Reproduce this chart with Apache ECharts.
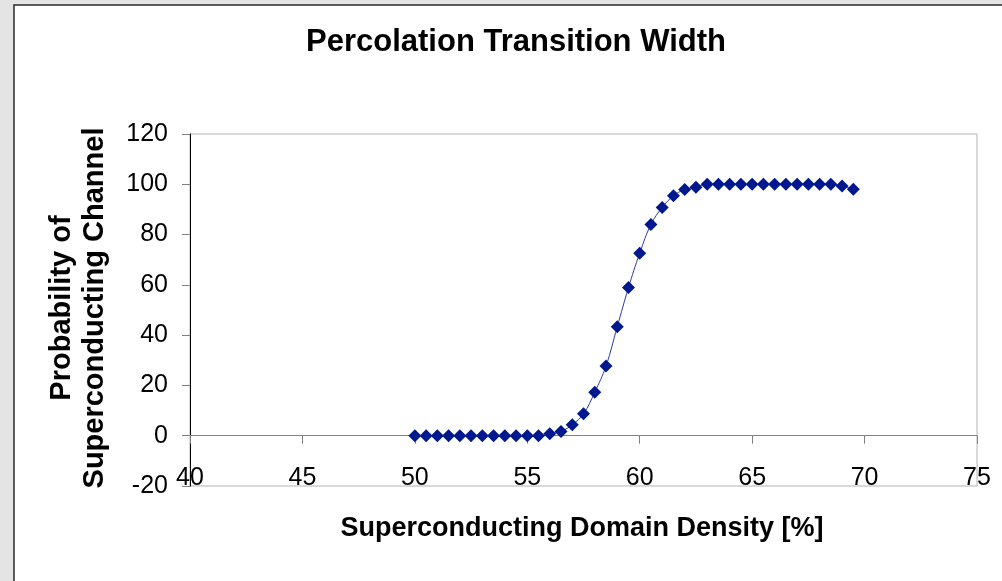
<!DOCTYPE html>
<html><head><meta charset="utf-8">
<script src="https://cdn.jsdelivr.net/npm/echarts@6/dist/echarts.min.js"></script>
<style>html,body{margin:0;padding:0;background:#e4e4e4}#c{width:1002px;height:581px}</style>
</head><body><div id="c"></div>
<script>
// Data
const density = [50,50.5,51,51.5,52,52.5,53,53.5,54,54.5,55,55.5,
  56,56.5,57,57.5,58,58.5,59,59.5,60,60.5,61,61.5,62,62.5,
  63,63.5,64,64.5,65,65.5,66,66.5,67,67.5,68,68.5,69,69.5];
const probability = [0,0,0,0,0,0,0,0,0,0,0,0,
  0.8,1.7,4.4,8.7,17.3,27.7,43.3,58.9,72.6,84.0,90.8,95.4,97.9,98.8,
  100,100,100,100,100,100,100,100,100,100,100,100,99.3,98.0];
const xTicks = [40,45,50,55,60,65,70,75];
const yTicks = [-20,0,20,40,60,80,100,120];
const titleText = 'Percolation Transition Width';
const xTitle = 'Superconducting Domain Density [%]';
const yTitleLines = ['Probability of', 'Superconducting Channel'];

const FONT = '"Liberation Sans", Arial, sans-serif';
const chart = echarts.init(document.getElementById('c'), null, {renderer: 'canvas'});
chart.setOption({
  backgroundColor: '#e4e4e4',
  animation: false,
  title: {
    text: titleText, left: 301, top: 22, padding: 5,
    textStyle: {fontFamily: FONT, fontSize: 31, fontWeight: 'bold', color: '#000'}
  },
  graphic: [
    {type: 'rect', z: -10, shape: {x: 14, y: 5, width: 1100, height: 700},
     style: {fill: '#fff', stroke: '#2a2a2a', lineWidth: 1.5}},
    {type: 'text', x: 582, y: 529, style: {text: xTitle, font: 'bold 27px ' + FONT,
      textAlign: 'center', textVerticalAlign: 'middle', fill: '#000'}},
    {type: 'text', x: 62, y: 308, rotation: Math.PI / 2, style: {text: yTitleLines[0], font: 'bold 29px ' + FONT,
      textAlign: 'center', textVerticalAlign: 'middle', fill: '#000'}},
    {type: 'text', x: 95, y: 308, rotation: Math.PI / 2, style: {text: yTitleLines[1], font: 'bold 29px ' + FONT,
      textAlign: 'center', textVerticalAlign: 'middle', fill: '#000'}}
  ],
  grid: {left: 190, top: 134, right: 25, bottom: 95, show: true,
    backgroundColor: 'transparent', borderColor: '#b4b4b4', borderWidth: 1},
  xAxis: {
    type: 'value', min: xTicks[0], max: xTicks[xTicks.length - 1], interval: xTicks[1] - xTicks[0],
    axisLine: {onZero: true, lineStyle: {color: '#808080', width: 1}},
    axisTick: {show: true, length: 8, lineStyle: {color: '#808080'}},
    axisLabel: {margin: -20, fontFamily: FONT, fontSize: 25, color: '#000', showMinLabel: true, showMaxLabel: true},
    splitLine: {show: false}
  },
  yAxis: {
    type: 'value', min: yTicks[0], max: yTicks[yTicks.length - 1], interval: yTicks[1] - yTicks[0],
    axisLine: {show: true, onZero: false, lineStyle: {color: '#000', width: 1}},
    axisTick: {show: true, length: 8, lineStyle: {color: '#808080'}},
    axisLabel: {margin: 22, fontFamily: FONT, fontSize: 25, color: '#000'},
    splitLine: {show: false}
  },
  series: [{
    type: 'line',
    data: density.map((d, i) => [d, probability[i]]),
    smooth: 0.4,
    symbol: 'diamond', symbolSize: 13,
    itemStyle: {color: '#00188f'},
    lineStyle: {color: '#2a3aa8', width: 1},
    z: 5
  }]
});
</script></body></html>
